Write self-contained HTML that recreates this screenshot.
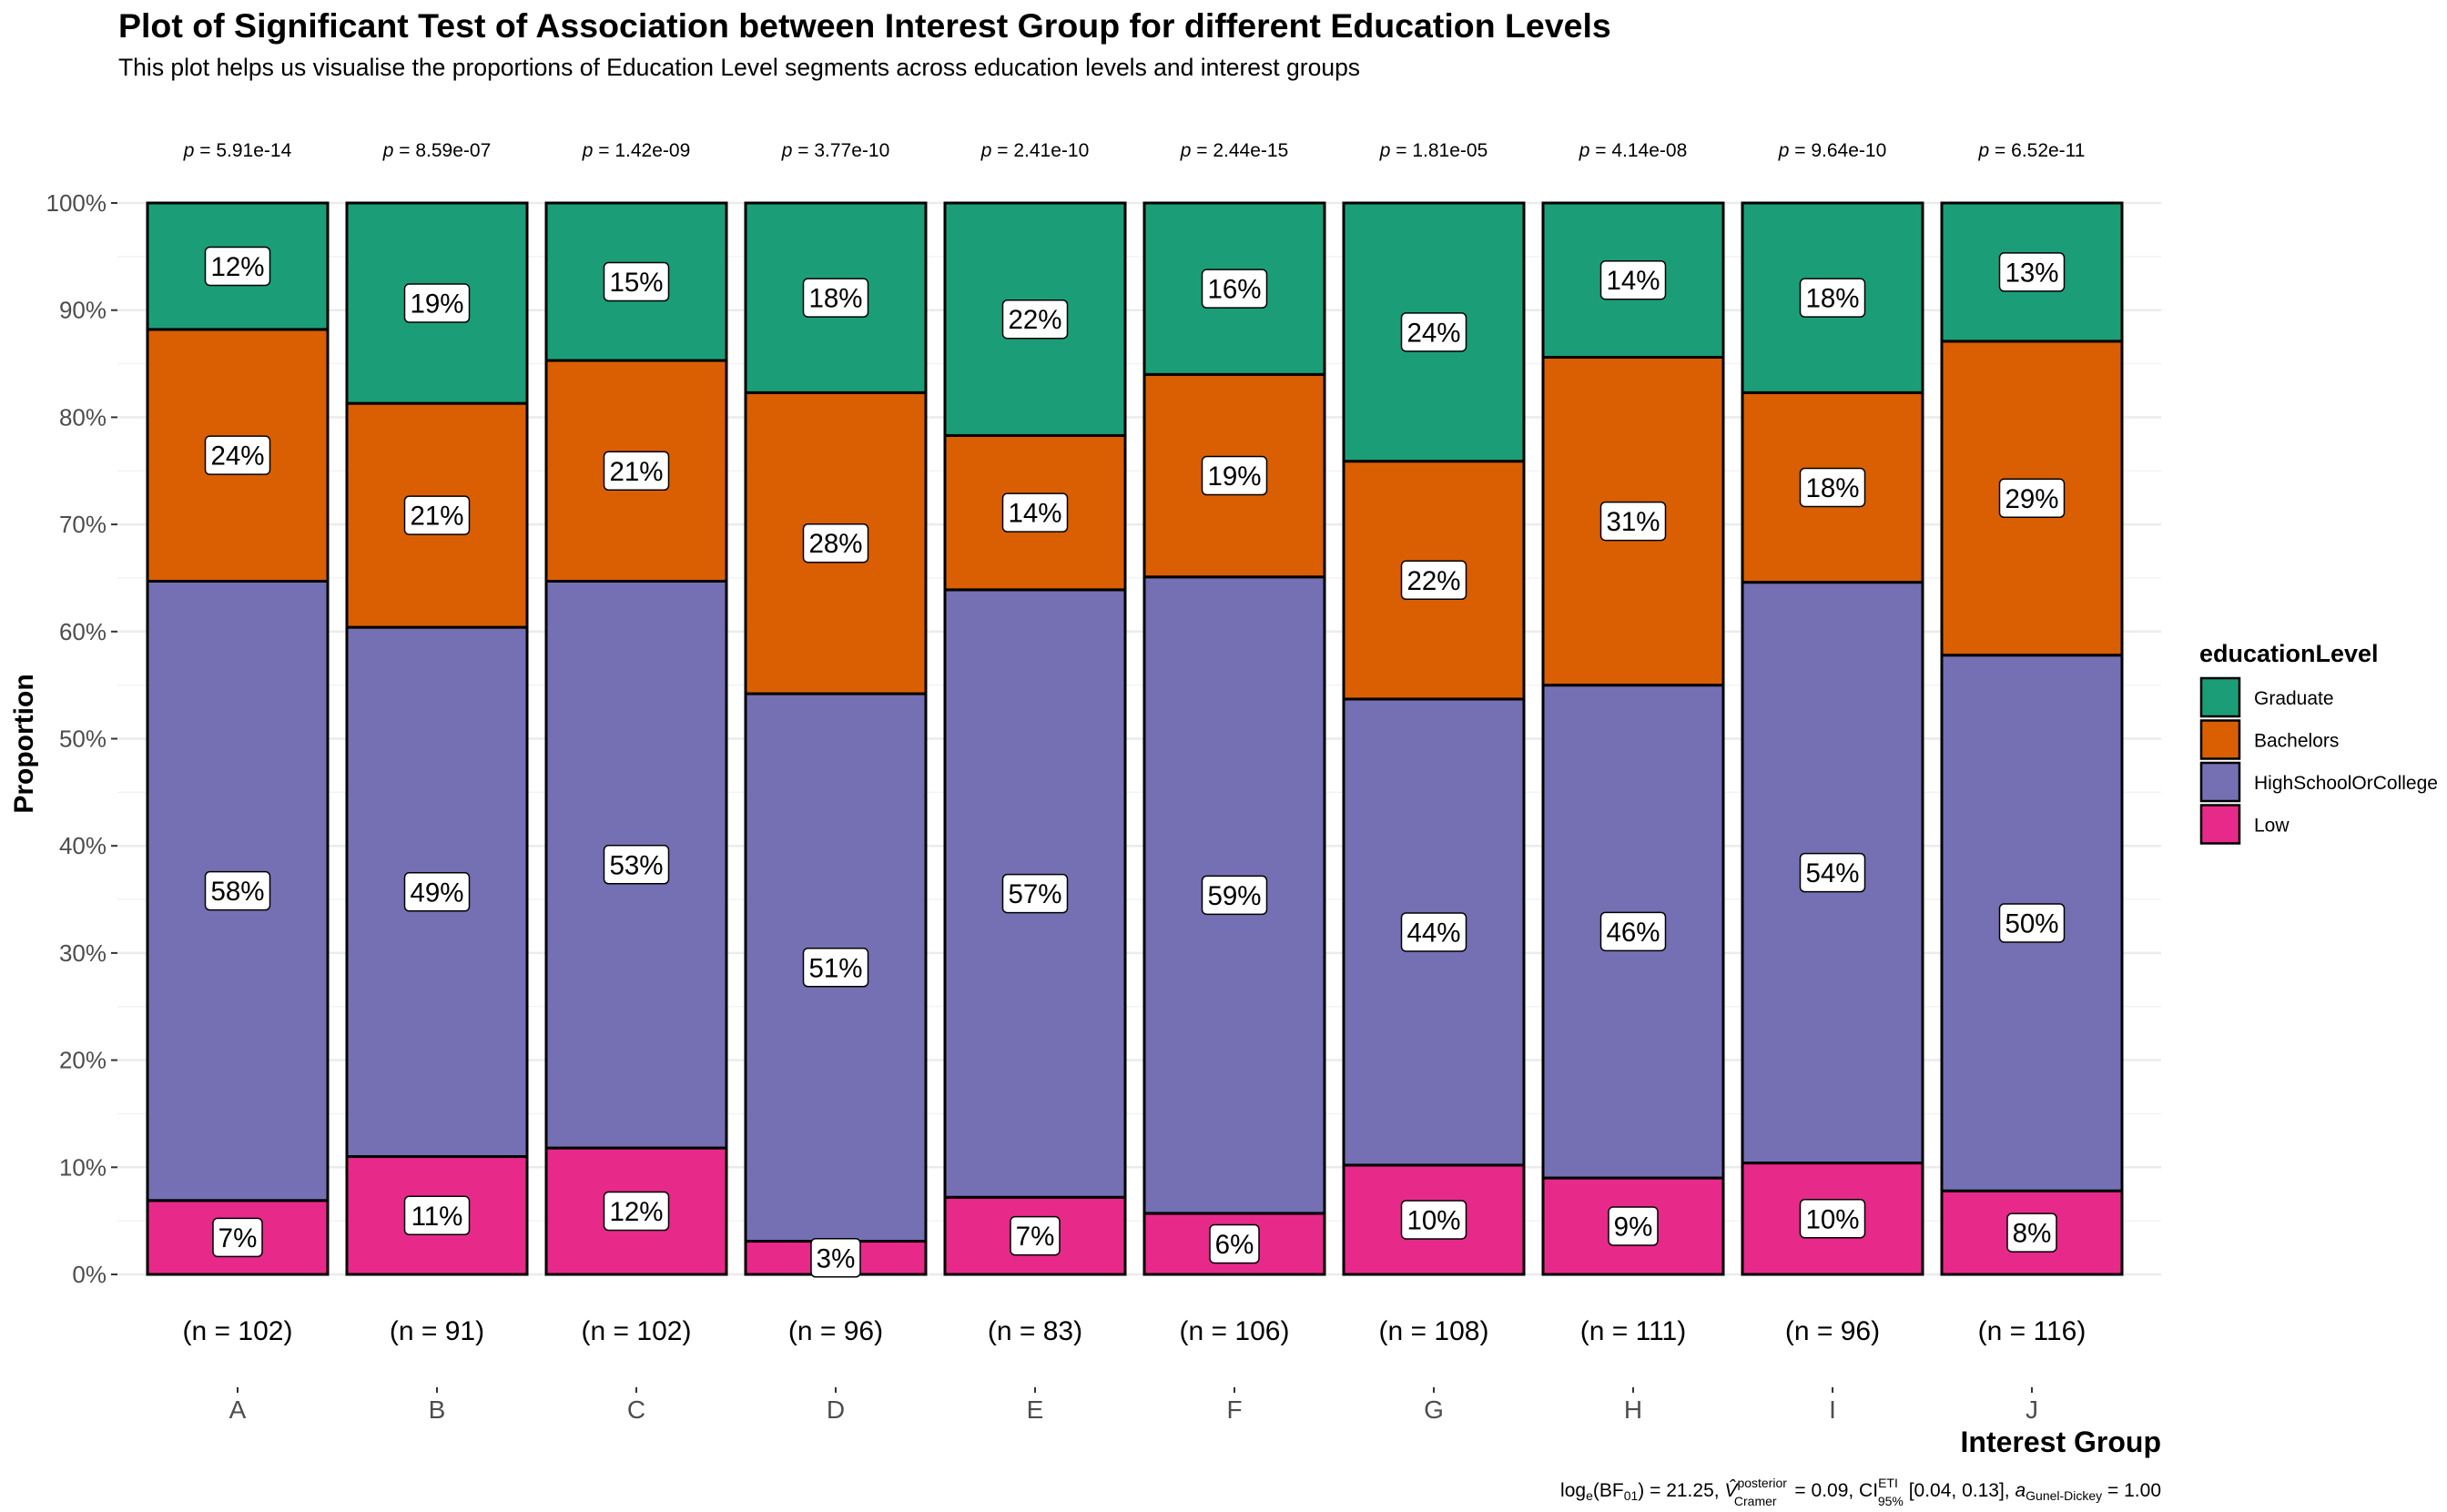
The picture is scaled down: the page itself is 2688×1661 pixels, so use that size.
<!DOCTYPE html>
<html><head><meta charset="utf-8"><style>
html,body{margin:0;padding:0;background:#fff;}
svg{display:block;font-family:"Liberation Sans",sans-serif;}
</style></head><body>
<svg id="chart" width="2688" height="1661" viewBox="0 0 2688 1661" xmlns="http://www.w3.org/2000/svg">
<text x="130" y="41" font-size="37.5" font-weight="bold" fill="#000">Plot of Significant Test of Association between Interest Group for different Education Levels</text>
<text x="130" y="83" font-size="26.5" fill="#000">This plot helps us visualise the proportions of Education Level segments across education levels and interest groups</text>
<g id="grid"></g>
<g id="bars"></g>
<g id="labels"></g>
<g id="axes"></g>
<text transform="translate(36,817) rotate(-90)" text-anchor="middle" font-size="30" font-weight="bold">Proportion</text>
<text x="2374" y="1595" text-anchor="end" font-size="32" font-weight="bold">Interest Group</text>
<text x="2374" y="1644" text-anchor="end" font-size="21">log<tspan font-size="14" dy="4">e</tspan><tspan dy="-4">(BF</tspan><tspan font-size="14" dy="4">01</tspan><tspan dy="-4">) = 21.25, </tspan><tspan font-style="italic">V̂</tspan><tspan font-size="14" dy="-10">posterior</tspan><tspan font-size="14" dx="-58" dy="20">Cramer</tspan><tspan dy="-10" dx="14"> = 0.09, CI</tspan><tspan font-size="14" dy="-10">ETI</tspan><tspan font-size="14" dx="-22" dy="20">95%</tspan><tspan dy="-10"> [0.04, 0.13], </tspan><tspan font-style="italic">a</tspan><tspan font-size="14" dy="4">Gunel-Dickey</tspan><tspan dy="-4"> = 1.00</tspan></text>
<g id="legend">
<text x="2416" y="727" font-size="27" font-weight="bold">educationLevel</text>
</g>
</svg>
<script>
const groups = ["A","B","C","D","E","F","G","H","I","J"];
const nCounts = [102,91,102,96,83,106,108,111,96,116];
const pValues = ["5.91e-14","8.59e-07","1.42e-09","3.77e-10","2.41e-10","2.44e-15","1.81e-05","4.14e-08","9.64e-10","6.52e-11"];
const levels = ["Low","HighSchoolOrCollege","Bachelors","Graduate"];
const lowVals = [6.9,11.0,11.8,3.1,7.2,5.7,10.2,9.0,10.4,7.8];
const hsVals = [57.8,49.4,52.9,51.1,56.7,59.4,43.5,46.0,54.2,50.0];
const bachVals = [23.5,20.9,20.6,28.1,14.4,18.9,22.2,30.6,17.7,29.3];
const gradVals = [11.8,18.7,14.7,17.7,21.7,16.0,24.1,14.4,17.7,12.9];
const yTicks = [0,10,20,30,40,50,60,70,80,90,100];
const legendLevels = ["Graduate","Bachelors","HighSchoolOrCollege","Low"];

const colors = {Graduate:"#1b9e77",Bachelors:"#d95f02",HighSchoolOrCollege:"#7570b3",Low:"#e7298a"};
const NS="http://www.w3.org/2000/svg";
const y0=1400, y100=223, xLeft=129, xRight=2374;
const yScale = v => y0 - (v/100)*(y0-y100);
const step=219.0, firstC=261, bw=198;
const xScale = i => firstC + i*step;
function mk(tag, attrs, parent){const e=document.createElementNS(NS,tag);for(const k in attrs)e.setAttribute(k,attrs[k]);parent.appendChild(e);return e;}
const grid=document.getElementById('grid'), bars=document.getElementById('bars'), labels=document.getElementById('labels'), axes=document.getElementById('axes');
for(let v=5; v<100; v+=10){
  const l=mk('line',{x1:xLeft,x2:xRight,y1:yScale(v),y2:yScale(v),stroke:'#f3f3f3','stroke-width':1.5},grid);
  
  
}
yTicks.forEach(v=>{
  const l=mk('line',{x1:xLeft,x2:xRight,y1:yScale(v),y2:yScale(v),stroke:'#ebebeb','stroke-width':2.5},grid);
  
  
  const t=mk('line',{x1:xLeft-7,x2:xLeft,y1:yScale(v),y2:yScale(v),stroke:'#333','stroke-width':2},axes);
  
  
  const tx=mk('text',{x:xLeft-12,y:yScale(v)+9,'text-anchor':'end','font-size':26,fill:'#4d4d4d'},axes);
  tx.textContent=v+'%';
  
  
});
const series={Low:lowVals,HighSchoolOrCollege:hsVals,Bachelors:bachVals,Graduate:gradVals};
groups.forEach((g,i)=>{
  const cx=xScale(i);
  let cum=0;
  const tot=levels.reduce((s,lv)=>s+series[lv][i],0);
  levels.forEach(lv=>{
    const v=series[lv][i]/tot*100;
    const yt=yScale(cum+v), yb=yScale(cum);
    const r=mk('rect',{x:cx-bw/2,y:yt,width:bw,height:yb-yt,fill:colors[lv],stroke:'#000','stroke-width':3},bars);
    
    
    const ym=(yt+yb)/2;
    const txt=Math.round(series[lv][i])+'%';
    const w=txt.length*17+20;
    const bx=mk('rect',{x:cx-w/2,y:ym-21,width:w,height:42,rx:5,fill:'#fff',stroke:'#000','stroke-width':1.5},labels);
    
    
    const t=mk('text',{x:cx,y:ym+10.5,'text-anchor':'middle','font-size':29.5,fill:'#000'},labels);
    t.textContent=txt;
    
    
    cum+=v;
  });
  const p=mk('text',{x:cx,y:172,'text-anchor':'middle','font-size':21,fill:'#000'},labels);
  p.innerHTML='<tspan font-style="italic">p</tspan> = '+pValues[i];
  
  
  const n=mk('text',{x:cx,y:1472,'text-anchor':'middle','font-size':30,fill:'#000'},labels);
  n.textContent='(n = '+nCounts[i]+')';
  
  
  const tk=mk('line',{x1:cx,x2:cx,y1:1524,y2:1530,stroke:'#333','stroke-width':2},axes);
  
  
  const xl=mk('text',{x:cx,y:1558,'text-anchor':'middle','font-size':28,fill:'#4d4d4d'},axes);
  xl.textContent=g;
  
  
});
const leg=document.getElementById('legend');
legendLevels.forEach((lv,k)=>{
  const y=745+k*46.5;
  const r=mk('rect',{x:2418,y:y,width:42,height:42,fill:colors[lv],stroke:'#000','stroke-width':2.5},leg);
  
  
  const t=mk('text',{x:2476,y:y+29,'font-size':21,fill:'#000'},leg);
  t.textContent=lv;
  
  
});
</script>
</body></html>
